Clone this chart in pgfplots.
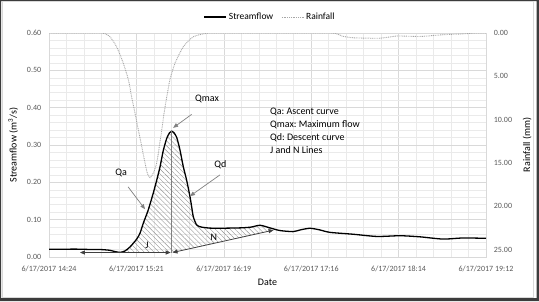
\documentclass[border=0pt]{standalone}
\usepackage{pgfplots}
\pgfplotsset{compat=1.18}
\usepgfplotslibrary{fillbetween}
\usetikzlibrary{patterns.meta,arrows.meta}
\usepackage{fontspec}
\setmainfont{Carlito}
\frenchspacing
\definecolor{framedark}{HTML}{3C3C3C}
\definecolor{borderlight}{HTML}{D9D9D9}
\definecolor{tickgray}{HTML}{595959}
\definecolor{majgrid}{HTML}{D9D9D9}
\definecolor{mingrid}{HTML}{EAEAEA}
\definecolor{raingray}{HTML}{A6A6A6}
\definecolor{arrgray}{HTML}{808080}
\definecolor{jngray}{HTML}{404040}

\pgfplotstableread{
m q
0 0.021
10 0.021
20 0.021
28 0.020
34 0.020
40 0.018
44 0.014
47 0.0125
50 0.016
53.4 0.027
57.8 0.048
60 0.064
62.1 0.090
65.4 0.126
68.7 0.171
71 0.206
73.2 0.242
75.3 0.285
77.6 0.318
79.5 0.333
80.9 0.337
82.5 0.332
84.2 0.320
86.3 0.287
88.5 0.242
90.7 0.206
92.9 0.162
94 0.135
95.1 0.108
97.3 0.086
100.6 0.080
108.3 0.077
125.9 0.078
133 0.080
139.1 0.085
145.6 0.078
152 0.071
160.8 0.068
166 0.073
172 0.077
178 0.073
185.2 0.066
200.4 0.061
216.2 0.055
231.4 0.057
244.6 0.054
259.7 0.048
272.9 0.051
288 0.050
}\flowdata

\pgfplotstableread{
m r
0 0
20 0
34.9 0
37.6 0.15
40.2 0.43
44.6 1.6
49 3.5
52.3 5.4
54.5 7.4
56.7 9.3
58.9 11.2
61.1 13.1
63.3 15.0
64.8 16.2
66.6 16.7
68.7 16.2
71 15.0
72.7 13.1
74.3 11.2
75.8 9.3
77.6 7.4
79.7 5.4
83 3.5
88.5 1.6
95.1 0.43
103.9 0.04
110 0
150 0
186 0
193.1 0.35
200.3 0.55
218.1 0.6
229.3 0.35
244.5 0.4
259.7 0.2
272.8 0.1
281.4 0
288 0
}\raindata

\begin{document}
\begin{tikzpicture}[x=1pt,y=1pt]

\begin{axis}[
  at={(49pt,44pt)}, anchor=south west,
  width=437pt, height=224pt, scale only axis,
  xmin=0, xmax=288, ymin=0, ymax=0.6,
  xtick={0,57.6,115.2,172.8,230.4,288},
  xticklabels={6/17/2017 14:24,6/17/2017 15:21,6/17/2017 16:19,6/17/2017 17:16,6/17/2017 18:14,6/17/2017 19:12},
  ytick={0,0.1,0.2,0.3,0.4,0.5,0.6},
  yticklabels={0.00,0.10,0.20,0.30,0.40,0.50,0.60},
  minor x tick num=4, minor y tick num=4,
  grid=both,
  major grid style={draw=majgrid, line width=0.6pt},
  minor grid style={draw=mingrid, line width=0.5pt},
  major tick length=0pt, minor tick length=0pt,
  axis line style={draw=majgrid},
  tick label style={font=\fontsize{8}{9.6}\selectfont, text=tickgray},
  xticklabel style={anchor=base, yshift=-14pt},
  yticklabel style={xshift=-4.3pt},
  xlabel={Date},
  ylabel={Streamflow (m\textsuperscript{3}/s)},
  label style={font=\fontsize{10}{12}\selectfont},
  xlabel style={at={(axis description cs:0.5,-0.112)}, anchor=center},
  ylabel style={at={(axis description cs:-0.082,0.5)}, anchor=center},
  clip=true,
]
\addplot[name path=flow, black, line width=1.3pt, smooth, tension=0.4] table[x=m,y=q] {\flowdata};
\addplot[draw=none, name path=base] coordinates {(40,0.012)(80.9,0.012)(152,0.0755)};
\addplot[pattern={Lines[angle=-45,distance=3.5pt,line width=0.4pt]}, pattern color=gray!85] fill between[of=flow and base, soft clip={domain=46:149}];
\addplot[arrgray, line width=0.6pt] coordinates {(80.9,0.012)(80.9,0.337)};
\addplot[jngray, line width=0.8pt, {Triangle[length=5pt,width=4pt]}-{Triangle[length=5pt,width=4pt]}] coordinates {(20.4,0.012)(80.2,0.012)};
\addplot[jngray, line width=0.8pt, {Triangle[length=5pt,width=4pt]}-{Triangle[length=5pt,width=4pt]}] coordinates {(81.4,0.012)(148,0.072)};

\draw[arrgray, line width=0.7pt, -{Triangle[length=5pt,width=4pt]}] (axis cs:94.0,0.382) -- (axis cs:81.8,0.346);
\draw[arrgray, line width=0.7pt, -{Triangle[length=5pt,width=4pt]}] (axis cs:52.1,0.188) -- (axis cs:63.3,0.128);
\draw[arrgray, line width=0.7pt, -{Triangle[length=5pt,width=4pt]}] (axis cs:112.7,0.220) -- (axis cs:92.9,0.163);

\node[font=\fontsize{10}{12}\selectfont] at (axis cs:104.1,0.423) {Qmax};
\node[font=\fontsize{10}{12}\selectfont] at (axis cs:47.6,0.225) {Qa};
\node[font=\fontsize{10}{12}\selectfont] at (axis cs:113,0.248) {Qd};
\node[font=\fontsize{10}{12}\selectfont] at (axis cs:64.6,0.030) {J};
\node[font=\fontsize{10}{12}\selectfont] at (axis cs:108.7,0.052) {N};
\node[font=\fontsize{10}{13}\selectfont, align=left, anchor=north west, inner sep=0pt] at (axis cs:145.6,0.400) {Qa: Ascent curve\\Qmax: Maximum flow\\Qd: Descent curve\\J and N Lines};
\end{axis}

\begin{axis}[
  at={(49pt,44pt)}, anchor=south west,
  width=437pt, height=224pt, scale only axis,
  xmin=0, xmax=288, ymin=0, ymax=25.87,
  y dir=reverse,
  axis x line=none,
  axis y line*=right,
  axis line style={draw=none},
  ytick={0,5,10,15,20,25},
  yticklabels={0.00,5.00,10.00,15.00,20.00,25.00},
  major tick length=0pt,
  tick label style={font=\fontsize{8}{9.6}\selectfont, text=tickgray},
  yticklabel style={xshift=4.3pt},
  ylabel={Rainfall (mm)},
  label style={font=\fontsize{10}{12}\selectfont},
  ylabel style={at={(axis description cs:1.094,0.5)}, anchor=center},
  legend style={at={(axis description cs:0.506,1.071)}, anchor=center, draw=none, fill=none,
    font=\fontsize{9.5}{11}\selectfont, legend columns=2,
    /tikz/every even column/.append style={column sep=6pt}},
  legend image code/.code={\draw[#1] (0pt,0pt) -- (22pt,0pt);},
]
\addlegendimage{black, line width=1.3pt}
\addlegendentry{Streamflow}
\addplot[raingray, line width=0.9pt, dash pattern=on 0.9pt off 0.9pt, smooth, tension=0.4] table[x=m,y=r] {\raindata};
\addlegendentry{Rainfall}
\end{axis}

\fill[framedark, even odd rule] (0,0) rectangle (539,301) (1,3) rectangle (536.5,300);
\draw[borderlight, line width=0.8pt] (2,4) rectangle (533.5,299.3);
\end{tikzpicture}
\end{document}
